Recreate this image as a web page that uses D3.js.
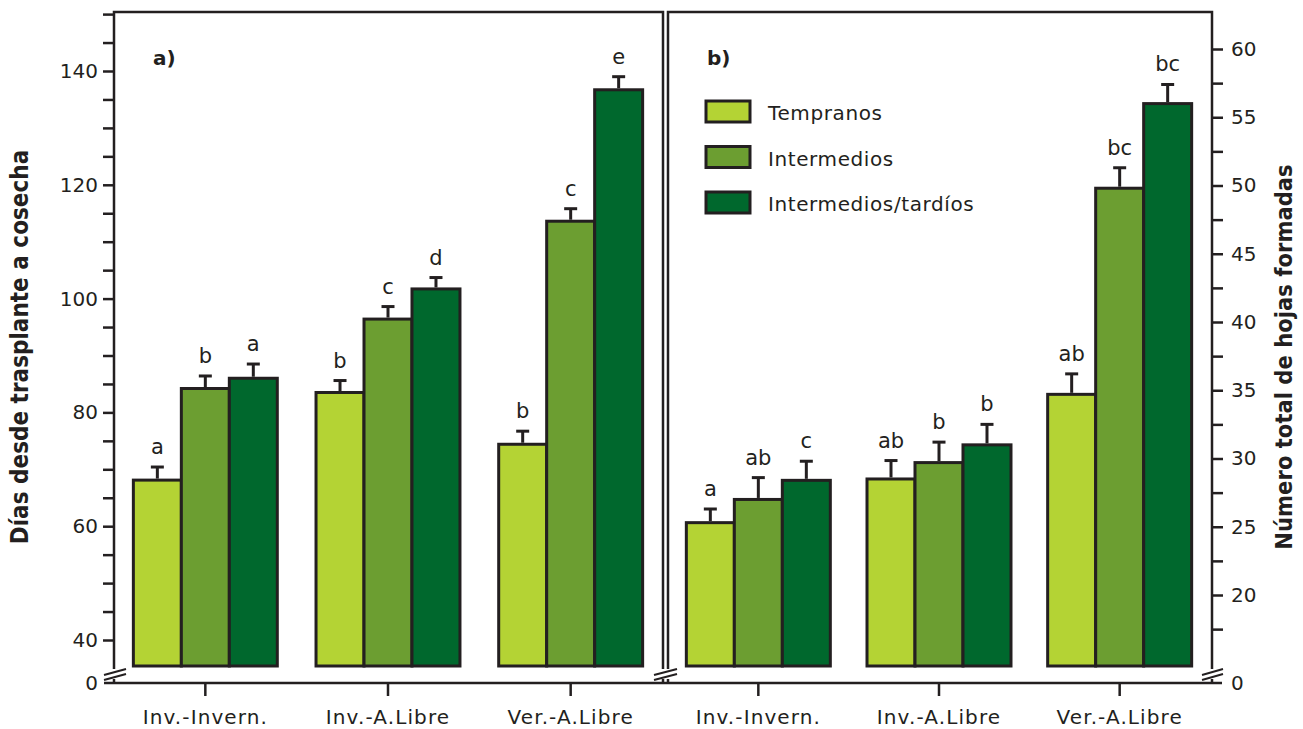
<!DOCTYPE html>
<html>
<head>
<meta charset="utf-8">
<script src="https://cdn.jsdelivr.net/npm/d3@7"></script>
<style>
  body { margin: 0; background: #fff; }
  svg text { font-family: "DejaVu Sans", Verdana, sans-serif; fill: #231f20; }
  .axis line { stroke: #231f20; stroke-width: 2.5; }
  .axis text { font-size: 20px; }
  .ytitle { font-family: "DejaVu Sans Condensed", "DejaVu Sans", sans-serif; font-stretch: condensed; font-weight: bold; }
</style>
</head>
<body>
<svg id="chart"></svg>
<script>
/* data */
var categories = ["Inv.-Invern.", "Inv.-A.Libre", "Ver.-A.Libre"];
var series = ["Tempranos", "Intermedios", "Intermedios/tardíos"];
var colors = ["#b4d334", "#6c9e31", "#00682d"];

// panel a) : días desde trasplante a cosecha (rows = categories, cols = series)
var diasMean = [[68.1, 84.2, 86.0], [83.5, 96.4, 101.7], [74.4, 113.6, 136.7]];
var diasErr = [[2.3, 2.2, 2.5], [2.1, 2.2, 2.0], [2.3, 2.2, 2.3]];
var diasLetters = [["a", "b", "a"], ["b", "c", "d"], ["b", "c", "e"]];
var diasTicks = [40, 60, 80, 100, 120, 140];
var diasMinor = d3.range(40, 151, 5);

// panel b) : número total de hojas formadas
var hojasMean = [[25.3, 27.0, 28.4], [28.5, 29.7, 31.0], [34.7, 49.8, 56.0]];
var hojasErr = [[1.0, 1.6, 1.4], [1.35, 1.5, 1.5], [1.5, 1.5, 1.4]];
var hojasLetters = [["a", "ab", "c"], ["ab", "b", "b"], ["ab", "bc", "bc"]];
var hojasTicks = [20, 25, 30, 35, 40, 45, 50, 55, 60];
var hojasMinor = d3.range(17.5, 60.1, 2.5);

/* layout */
var width = 1303, height = 729,
    frameTop = 12, xAxisY = 683, barBottom = 666, breakTop = 669,
    leftX = 114, midL = 663, midR = 668, rightX = 1212,
    ink = "#231f20";

var svg = d3.select("#chart").attr("width", width).attr("height", height);

/* scales */
var yL = d3.scaleLinear().domain([40, 140]).range([640, 71]);
var yR = d3.scaleLinear().domain([20, 60]).range([595, 49]);

var xL = d3.scaleBand().domain(categories).range([114, 662]).paddingInner(0.212).paddingOuter(0.106);
var xR = d3.scaleBand().domain(categories).range([668, 1210]).paddingInner(0.203).paddingOuter(0.1015);

function drawBars(xScale, yScale, means, errs, letters) {
  var inner = d3.scaleBand().domain(d3.range(series.length)).range([0, xScale.bandwidth()]);
  var rows = categories.map(function(c, i) {
    return series.map(function(s, j) {
      return {cat: c, j: j, v: means[i][j], e: errs[i][j], lab: letters[i][j]};
    });
  });

  var grp = svg.append("g").selectAll("g")
    .data(rows).enter().append("g")
    .attr("transform", function(d, i) { return "translate(" + xScale(categories[i]) + ",0)"; });

  grp.selectAll("rect").data(function(d) { return d; }).enter().append("rect")
    .attr("x", function(d) { return inner(d.j); })
    .attr("y", function(d) { return yScale(d.v); })
    .attr("width", inner.bandwidth())
    .attr("height", function(d) { return barBottom - yScale(d.v); })
    .attr("fill", function(d) { return colors[d.j]; })
    .attr("stroke", ink).attr("stroke-width", 3);

  // error bars (upper half only)
  var eb = grp.selectAll("g.err").data(function(d) { return d; }).enter().append("g").attr("class", "err");
  eb.append("line")
    .attr("x1", function(d) { return inner(d.j) + inner.bandwidth() / 2; })
    .attr("x2", function(d) { return inner(d.j) + inner.bandwidth() / 2; })
    .attr("y1", function(d) { return yScale(d.v) - 1.5; })
    .attr("y2", function(d) { return yScale(d.v + d.e); })
    .attr("stroke", ink).attr("stroke-width", 3);
  eb.append("line")
    .attr("x1", function(d) { return inner(d.j) + inner.bandwidth() / 2 - 6.5; })
    .attr("x2", function(d) { return inner(d.j) + inner.bandwidth() / 2 + 6.5; })
    .attr("y1", function(d) { return yScale(d.v + d.e); })
    .attr("y2", function(d) { return yScale(d.v + d.e); })
    .attr("stroke", ink).attr("stroke-width", 3);
  eb.append("text")
    .attr("x", function(d) { return inner(d.j) + inner.bandwidth() / 2; })
    .attr("y", function(d) { return yScale(d.v + d.e) - 13; })
    .attr("text-anchor", "middle")
    .style("font-size", "21px")
    .text(function(d) { return d.lab; });
}

drawBars(xL, yL, diasMean, diasErr, diasLetters);
drawBars(xR, yR, hojasMean, hojasErr, hojasLetters);

/* y axes */
var axL = svg.append("g").attr("class", "axis").attr("transform", "translate(" + leftX + ",0)")
  .call(d3.axisLeft(yL).tickValues(diasMinor).tickSize(11).tickPadding(5)
    .tickFormat(function(d) { return diasTicks.indexOf(d) >= 0 ? d : ""; }));
axL.select(".domain").remove();

var axR = svg.append("g").attr("class", "axis").attr("transform", "translate(" + rightX + ",0)")
  .call(d3.axisRight(yR).tickValues(hojasMinor).tickSize(11).tickPadding(8)
    .tickFormat(function(d) { return hojasTicks.indexOf(d) >= 0 ? d : ""; }));
axR.select(".domain").remove();

/* x axes */
[xL, xR].forEach(function(sc) {
  var ax = svg.append("g").attr("class", "axis").attr("transform", "translate(0," + xAxisY + ")")
    .call(d3.axisBottom(sc).tickSize(13).tickSizeOuter(0).tickPadding(9));
  ax.select(".domain").remove();
  ax.selectAll("text").style("letter-spacing", "1.1px").attr("dy", "0.95em");
});

/* frame lines */
var frame = svg.append("g").attr("fill", "none").attr("stroke", ink).attr("stroke-width", 2.5);
frame.append("path").attr("d", d3.line()([[leftX, breakTop], [leftX, frameTop], [midL, frameTop], [midL, breakTop]]));
frame.append("path").attr("d", d3.line()([[midR, breakTop], [midR, frameTop], [rightX, frameTop], [rightX, breakTop]]));
frame.append("line").attr("x1", 104).attr("x2", 1222).attr("y1", xAxisY).attr("y2", xAxisY);

// broken axis marks
function breakMark(x0, x1, xs) {
  [672, 677].forEach(function(y) {
    frame.append("line").attr("x1", x0).attr("x2", x1).attr("y1", y + 3).attr("y2", y - 3).attr("stroke-width", 2);
  });
  xs.forEach(function(x) {
    frame.append("line").attr("x1", x).attr("x2", x).attr("y1", 679).attr("y2", xAxisY);
  });
}
breakMark(104, 126, [leftX]);
breakMark(654, 677, [midL, midR]);
breakMark(1202, 1223, [rightX]);

// "0" labels at the axis origin
svg.append("text").attr("x", 98).attr("y", xAxisY).attr("dy", "0.35em").attr("text-anchor", "end").style("font-size", "20px").text("0");
svg.append("text").attr("x", 1231).attr("y", xAxisY).attr("dy", "0.35em").style("font-size", "20px").text("0");

/* axis titles */
svg.append("text").attr("class", "ytitle").style("font-size", "24px")
  .attr("transform", "translate(28,347) rotate(-90)").attr("text-anchor", "middle")
  .text("Días desde trasplante a cosecha");
svg.append("text").attr("class", "ytitle").style("font-size", "23.5px")
  .attr("transform", "translate(1292,357) rotate(-90)").attr("text-anchor", "middle")
  .text("Número total de hojas formadas");

/* panel letters */
svg.append("text").attr("x", 153).attr("y", 65).style("font-weight", "bold").style("font-size", "20px").text("a)");
svg.append("text").attr("x", 707).attr("y", 65).style("font-weight", "bold").style("font-size", "20px").text("b)");

/* legend */
var leg = svg.append("g").selectAll("g").data(series).enter().append("g")
  .attr("transform", function(d, i) { return "translate(706," + (101 + i * 45.5) + ")"; });
leg.append("rect").attr("width", 44).attr("height", 21)
  .attr("fill", function(d, i) { return colors[i]; })
  .attr("stroke", ink).attr("stroke-width", 3);
leg.append("text").attr("x", 62).attr("y", 19).style("font-size", "20px").style("letter-spacing", "0.6px")
  .text(function(d) { return d; });
</script>
</body>
</html>
